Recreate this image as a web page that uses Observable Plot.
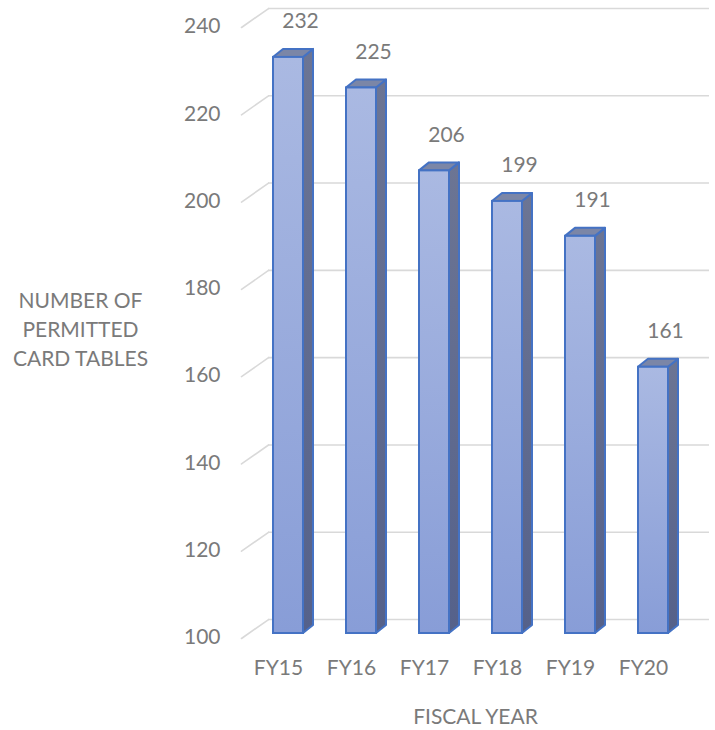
<!DOCTYPE html>
<html>
<head>
<meta charset="utf-8">
<script src="https://cdn.jsdelivr.net/npm/d3@7"></script>
<script src="https://cdn.jsdelivr.net/npm/@observablehq/plot@0.6"></script>
<style>
  html, body { margin: 0; padding: 0; background: #ffffff; }
  #chart svg { display: block; }
</style>
</head>
<body>
<div id="chart"></div>
<script>
const categories = ["FY15", "FY16", "FY17", "FY18", "FY19", "FY20"];
const values = [232, 225, 206, 199, 191, 161];
const yTicks = [100, 120, 140, 160, 180, 200, 220, 240];
const yTitle = "NUMBER OF\nPERMITTED\nCARD TABLES";
const xTitle = "FISCAL YEAR";

const data = categories.map((c, i) => ({cat: c, value: values[i]}));

const textColor = "#7a7a7a";
const gridColor = "#d9d9d9";
const edgeColor = "#4472c4";
const font = "Lato, 'Open Sans', sans-serif";
const fs = 21;

const diagShape = {
  draw(context, l) {
    context.moveTo(0, 0);
    context.lineTo(0, -l);
  }
};

const svg = Plot.plot({
  width: 715,
  height: 730,
  marginTop: 22,
  marginBottom: 97,
  marginLeft: 241,
  marginRight: 6,
  style: {fontFamily: font, fontSize: fs + "px", color: textColor, background: "#ffffff"},
  x: {domain: categories, range: [271, 669], paddingInner: 0.59, paddingOuter: 0},
  y: {domain: [100, 240]},
  marks: [
    Plot.ruleY(yTicks, {stroke: gridColor, strokeWidth: 1.6, dy: -14, insetLeft: 27}),
    Plot.vector(yTicks, {y: d => d, frameAnchor: "left", length: 33, rotate: 55, anchor: "start",
      shape: diagShape, stroke: gridColor, strokeWidth: 1.6, dy: 5}),
    Plot.axisY({ticks: yTicks, tickSize: 0, tickPadding: 21, dy: 4, fontSize: fs, label: null, tickFormat: d => String(d)}),
    Plot.axisX({tickSize: 0, tickPadding: 27, dx: -10, fontSize: fs, label: null}),
    Plot.barY(data, {x: "cat", y1: 100, y2: "value", fill: "url(#frontGrad)", stroke: edgeColor, strokeWidth: 2}),
    Plot.text(data, {x: "cat", y: "value", text: d => String(d.value), dx: 12, dy: -36, fontSize: fs, fill: textColor}),
    Plot.text([yTitle], {frameAnchor: "left", dx: -161, textAnchor: "middle", lineHeight: 1.38, fontSize: fs, fill: textColor}),
    Plot.text([xTitle], {frameAnchor: "bottom", dy: 84, lineAnchor: "middle", fontSize: fs, fill: textColor})
  ]
});

// 3-D decoration of the bars drawn by Plot: side and top faces derived from each rendered bar
const s = d3.select(svg);
const defs = s.insert("defs", ":first-child");
const g1 = defs.append("linearGradient").attr("id", "frontGrad").attr("x1", 0).attr("y1", 0).attr("x2", 0).attr("y2", 1);
g1.append("stop").attr("offset", "0%").attr("stop-color", "#aab9e2");
g1.append("stop").attr("offset", "100%").attr("stop-color", "#889dd7");
const g2 = defs.append("linearGradient").attr("id", "sideGrad").attr("x1", 0).attr("y1", 0).attr("x2", 0).attr("y2", 1);
g2.append("stop").attr("offset", "0%").attr("stop-color", "#6c7594");
g2.append("stop").attr("offset", "100%").attr("stop-color", "#55618a");

const barG = s.select('g[aria-label="bar"]');
const faces = s.insert("g", () => barG.node()).attr("stroke", edgeColor).attr("stroke-width", 2).attr("stroke-linejoin", "round");
const ddx = 10, ddy = -8;
barG.selectAll("rect").each(function() {
  const x = +this.getAttribute("x"), y = +this.getAttribute("y");
  const w = +this.getAttribute("width"), h = +this.getAttribute("height");
  faces.append("polygon")
    .attr("points", [[x + w, y], [x + w + ddx, y + ddy], [x + w + ddx, y + h + ddy], [x + w, y + h]].join(" "))
    .attr("fill", "url(#sideGrad)");
  faces.append("polygon")
    .attr("points", [[x, y], [x + ddx, y + ddy], [x + w + ddx, y + ddy], [x + w, y]].join(" "))
    .attr("fill", "#7b86a7");
});

document.getElementById("chart").appendChild(svg);
</script>
</body>
</html>
